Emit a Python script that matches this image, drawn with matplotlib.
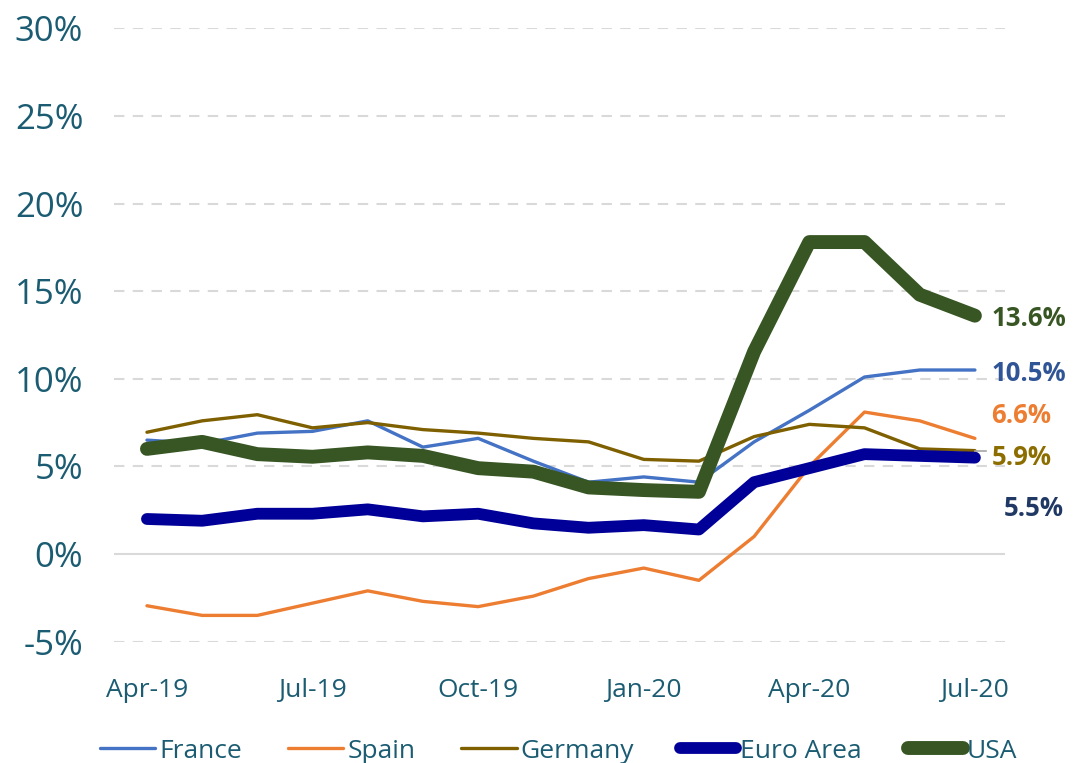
import matplotlib.pyplot as plt
from matplotlib.ticker import FuncFormatter

# data (percent)
months = ['Apr-19', 'May-19', 'Jun-19', 'Jul-19', 'Aug-19', 'Sep-19', 'Oct-19', 'Nov-19',
          'Dec-19', 'Jan-20', 'Feb-20', 'Mar-20', 'Apr-20', 'May-20', 'Jun-20', 'Jul-20']
france = [6.5, 6.3, 6.9, 7.0, 7.6, 6.1, 6.6, 5.3, 4.1, 4.4, 4.1, 6.4, 8.2, 10.1, 10.5, 10.5]
spain = [-2.95, -3.5, -3.5, -2.8, -2.1, -2.7, -3.0, -2.4, -1.4, -0.8, -1.5, 1.0, 5.0, 8.1, 7.6, 6.6]
germany = [6.95, 7.6, 7.95, 7.2, 7.5, 7.1, 6.9, 6.6, 6.4, 5.4, 5.3, 6.7, 7.4, 7.2, 6.0, 5.9]
euro_area = [2.0, 1.9, 2.3, 2.3, 2.55, 2.15, 2.3, 1.75, 1.5, 1.65, 1.4, 4.1, 4.9, 5.7, 5.6, 5.5]
usa = [6.0, 6.4, 5.7, 5.55, 5.8, 5.6, 4.9, 4.7, 3.8, 3.65, 3.55, 11.55, 17.8, 17.8, 14.8, 13.6]

tick_idx = [0, 3, 6, 9, 12, 15]
txt_col = '#1B5C72'

plt.rcParams['font.family'] = ['Open Sans', 'DejaVu Sans']

fig = plt.figure(figsize=(10.74, 7.63), dpi=100)
ax = fig.add_axes([0.106, 0.159, 0.83, 0.804])

x = list(range(len(months)))
ax.plot(x, france, color='#4472C4', lw=2.4, label='France', solid_capstyle='round')
ax.plot(x, spain, color='#ED7D31', lw=2.4, label='Spain', solid_capstyle='round')
ax.plot(x, germany, color='#7F6000', lw=2.4, label='Germany', solid_capstyle='round')
ax.plot(x, euro_area, color='#000099', lw=8.5, label='Euro Area',
        solid_capstyle='round', solid_joinstyle='round')
ax.plot(x, usa, color='#375623', lw=10, label='USA',
        solid_capstyle='round', solid_joinstyle='round')

# gridlines
for v in range(-5, 31, 5):
    if v == 0:
        ax.axhline(v, color='#D9D9D9', lw=1.5, zorder=0)
    else:
        ax.axhline(v, color='#D9D9D9', lw=1.5, ls=(0, (5, 4)), zorder=0)

ax.set_xlim(-0.6, 15.55)
ax.set_ylim(-5, 30)
ax.set_yticks(range(-5, 31, 5))
ax.yaxis.set_major_formatter(FuncFormatter(lambda v, p: f'{v:.0f}%'))
ax.set_xticks(tick_idx)
ax.set_xticklabels([months[i] for i in tick_idx])
ax.tick_params(axis='y', length=0, pad=22, labelsize=25, labelcolor=txt_col)
ax.tick_params(axis='x', length=0, pad=26, labelsize=19, labelcolor=txt_col)
for s in ax.spines.values():
    s.set_visible(False)

# end labels
lab_x = 15.3
fs = 18.5
ax.text(lab_x, usa[-1] - 0.15, f'{usa[-1]:.1f}%', color='#375623', fontsize=fs,
        fontweight='bold', va='center')
ax.text(lab_x, france[-1] - 0.2, f'{france[-1]:.1f}%', color='#2F5597', fontsize=fs,
        fontweight='bold', va='center')
ax.text(lab_x, 7.9, f'{spain[-1]:.1f}%', color='#ED7D31', fontsize=fs,
        fontweight='bold', va='center')
ax.plot([15, 15.2], [germany[-1], germany[-1]], color='#A6A6A6', lw=1.2)
ax.text(lab_x, 5.5, f'{germany[-1]:.1f}%', color='#8C6D00', fontsize=fs,
        fontweight='bold', va='center')
ax.text(lab_x + 0.22, 2.6, f'{euro_area[-1]:.1f}%', color='#1F3864', fontsize=fs,
        fontweight='bold', va='center')

leg = fig.legend(loc='lower center', bbox_to_anchor=(0.52, -0.032), ncol=5, frameon=False,
                 fontsize=19, handlelength=2.1, handletextpad=0.15, columnspacing=1.75)
for t in leg.get_texts():
    t.set_color(txt_col)

plt.savefig('out.png', dpi=100)
